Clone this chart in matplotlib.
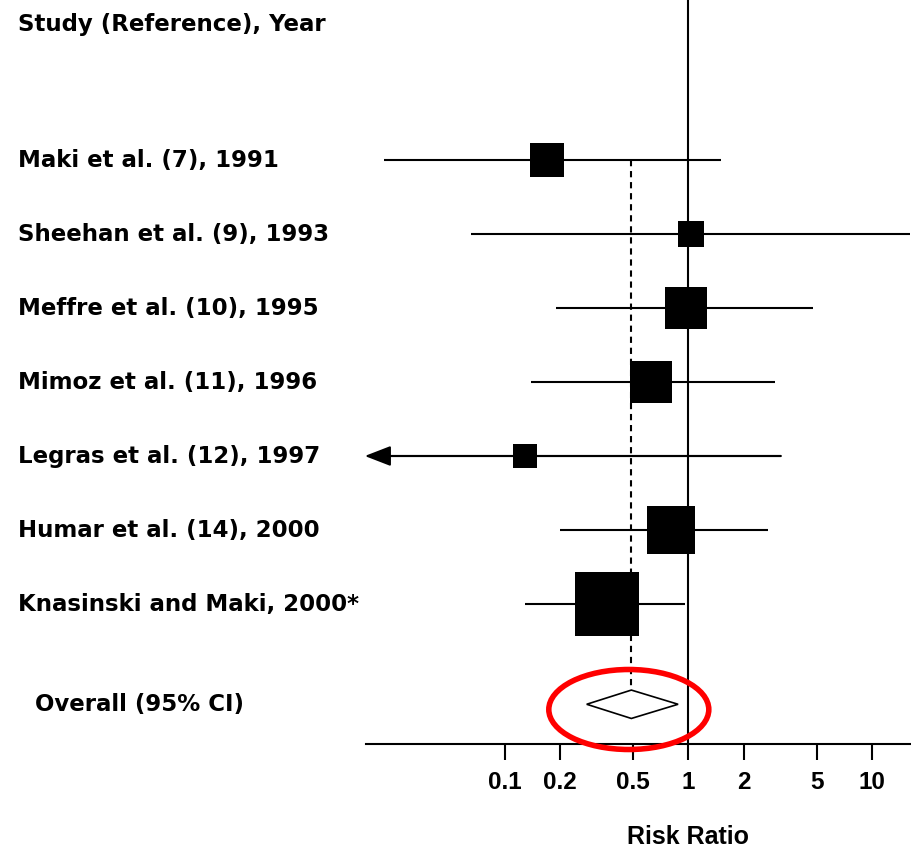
import matplotlib
matplotlib.use("Agg")
import matplotlib.pyplot as plt
import numpy as np
from matplotlib.patches import Polygon, Ellipse
from matplotlib.transforms import blended_transform_factory
from matplotlib.ticker import NullLocator

# ---------------- data ----------------
studies = ["Maki et al. (7), 1991",
           "Sheehan et al. (9), 1993",
           "Meffre et al. (10), 1995",
           "Mimoz et al. (11), 1996",
           "Legras et al. (12), 1997",
           "Humar et al. (14), 2000",
           "Knasinski and Maki, 2000*"]
rr = [0.17, 1.04, 0.97, 0.63, 0.13, 0.81, 0.36]
lower = [0.022, 0.066, 0.19, 0.14, 0.01, 0.20, 0.13]
upper = [1.50, 17.0, 4.74, 2.96, 3.19, 2.73, 0.96]
weights = [8.9, 5.1, 15.0, 14.3, 4.7, 18.7, 33.3]   # relative study weight (%)
overall_label = "Overall (95% CI)"
overall = [0.49, 0.28, 0.88]   # estimate, lower, upper
header = "Study (Reference), Year"
xlabel = "Risk Ratio"
tick_values = [0.1, 0.2, 0.5, 1, 2, 5, 10]
tick_labels = ["0.1", "0.2", "0.5", "1", "2", "5", "10"]

# ---------------- layout ----------------
W, H = 911, 852
fig = plt.figure(figsize=(W / 100, H / 100), dpi=100)
fig.patch.set_facecolor("white")

x_one, px_per_dec = 688.3, 183.8


def px2val(p):
    return 10 ** ((p - x_one) / px_per_dec)


ax_left, ax_right, ax_bottom_px = 366.0, 910.0, 744.0
ax = fig.add_axes([ax_left / W, 1 - ax_bottom_px / H,
                   (ax_right - ax_left) / W, ax_bottom_px / H])
ax.set_xscale("log")
xmin, xmax = px2val(ax_left), px2val(ax_right)
ax.set_xlim(xmin, xmax)
row_px0, row_step = 160.0, 74.0
ax.set_ylim((ax_bottom_px - row_px0) / row_step, (0 - row_px0) / row_step)
ax.set_facecolor("none")

rows = np.arange(len(studies))
overall_y = rows[-1] + 1.355
dh = 14.2 / row_step

LW = 1.5
# reference line at 1
ax.axvline(1, color="black", lw=LW, zorder=1)
# dashed line at overall estimate
ax.vlines(overall[0], rows[0], overall_y - dh, colors="black", lw=LW,
          linestyles=(0, (3, 2.3)), zorder=1)

max_w = max(weights)
for i, y in enumerate(rows):
    lo, hi = lower[i], upper[i]
    if lo < xmin:
        ax.plot([xmin * 1.25, hi], [y, y], color="black", lw=LW,
                solid_capstyle="butt", zorder=2)
        ax.annotate("", xy=(xmin * 0.985, y), xytext=(hi, y),
                    arrowprops=dict(arrowstyle="-|>,head_length=1.6,head_width=0.62",
                                    color="black", lw=LW, shrinkA=0, shrinkB=0,
                                    mutation_scale=10),
                    annotation_clip=False, zorder=2)
    else:
        ax.plot([lo, hi], [y, y], color="black", lw=LW,
                solid_capstyle="butt", zorder=2)
    side_px = 64.0 * np.sqrt(weights[i] / max_w)
    ax.plot(rr[i], y, marker="s", ms=side_px * 72 / 100, color="black",
            mec="black", mew=0, zorder=3)

# overall diamond
est, olo, ohi = overall
diamond = Polygon([(olo, overall_y), (est, overall_y - dh), (ohi, overall_y),
                   (est, overall_y + dh)], closed=True, facecolor="white",
                  edgecolor="black", lw=1.2, zorder=3)
ax.add_patch(diamond)

# axes styling
for s in ["top", "left", "right"]:
    ax.spines[s].set_visible(False)
ax.spines["bottom"].set_linewidth(LW)
ax.set_yticks([])
ax.set_xticks(tick_values)
ax.set_xticklabels(tick_labels)
ax.xaxis.set_minor_locator(NullLocator())
ax.tick_params(axis="x", direction="out", length=11.5, width=LW, pad=8)
for lab in ax.get_xticklabels():
    lab.set_fontfamily("Liberation Sans")
    lab.set_fontweight("bold")
    lab.set_fontsize(17.5)

# texts
trans = blended_transform_factory(fig.transFigure, ax.transData)
for i, y in enumerate(rows):
    ax.text(18 / W, y, studies[i], transform=trans, ha="left", va="center",
            fontsize=16.5, fontweight="bold", family="DejaVu Sans", clip_on=False)
ax.text(35 / W, overall_y, overall_label, transform=trans, ha="left",
        va="center", fontsize=16.5, fontweight="bold", family="DejaVu Sans",
        clip_on=False)
fig.text(18 / W, 1 - 24 / H, header, ha="left", va="center", fontsize=16.5,
         fontweight="bold", family="DejaVu Sans")
tx = blended_transform_factory(ax.transData, fig.transFigure)
fig.text(1, 1 - 837 / H, xlabel, transform=tx, ha="center", va="center",
         fontsize=18, fontweight="bold", family="Liberation Sans")

# red highlight ellipse
ell = Ellipse((628.8 / W, 1 - 709.5 / H), 160 / W, 80 / H,
              transform=fig.transFigure, fill=False, edgecolor="#ff0000",
              lw=4.0, zorder=10)
fig.patches.append(ell)

fig.savefig("out.png", dpi=100, facecolor="white")
